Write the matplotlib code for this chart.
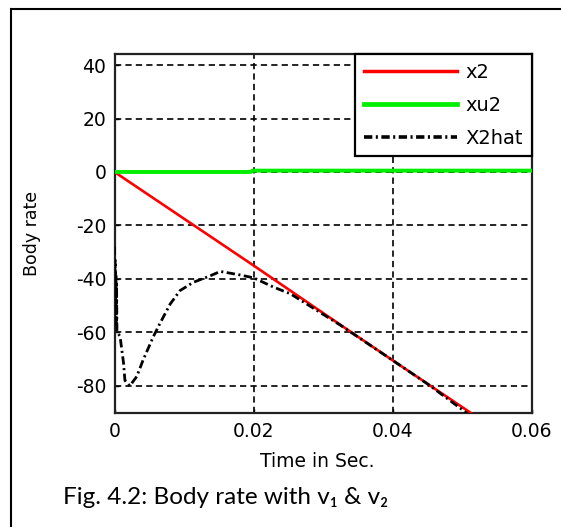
import matplotlib
matplotlib.use("Agg")
import matplotlib.pyplot as plt
from matplotlib.lines import Line2D

plt.rcParams['lines.scale_dashes'] = False
plt.rcParams['axes.unicode_minus'] = False

# ---- data ----
t_x2 = [0.0, 0.01, 0.02, 0.03, 0.04, 0.052]
x2 = [0.0, -17.5, -35.0, -52.8, -70.5, -91.5]

t_xu2 = [0.0, 0.0196, 0.0198, 0.06]
xu2 = [0.0, 0.0, 0.5, 0.5]

t_x2hat = [0.0, 0.00005, 0.0001, 0.00015, 0.0002, 0.00025, 0.0003, 0.00035, 0.0004,
           0.0008, 0.0013, 0.0015, 0.0022, 0.0032, 0.0041, 0.0056, 0.0065, 0.008,
           0.0094, 0.0113, 0.0137, 0.0152, 0.018, 0.02, 0.0228, 0.0253, 0.0283,
           0.0324, 0.036, 0.04, 0.045, 0.0508]
x2hat = [-28.0, -45.0, -33.0, -52.0, -38.0, -57.0, -42.0, -59.5, -60.0,
         -61.5, -71.5, -78.0, -80.0, -76.5, -70.4, -61.5, -56.8, -49.4,
         -44.4, -41.3, -38.9, -37.2, -38.5, -39.6, -43.0, -45.6, -50.5,
         -57.2, -63.5, -70.5, -79.3, -90.5]

labels = ['x2', 'xu2', 'X2hat']
xticks = [0, 0.02, 0.04, 0.06]
xticklabels = ['0', '0.02', '0.04', '0.06']
yticks = [-80, -60, -40, -20, 0, 20, 40]

W, H = 561, 527
fig = plt.figure(figsize=(W / 100, H / 100), dpi=100)
fig.patch.set_facecolor('white')

ax = fig.add_axes([114.5 / W, 1 - 413.4 / H, (532 - 114.5) / W, (413.4 - 53.8) / H])

ax.plot(t_x2, x2, color='#ff0000', lw=1.9, label=labels[0], zorder=3)
ax.plot(t_xu2, xu2, color='#00ee00', lw=2.8, label=labels[1], zorder=4)
ax.plot(t_x2hat, x2hat, color='black', lw=2.0, linestyle=(0, (6, 2.5, 1.5, 2.5)),
        label=labels[2], zorder=5)

ax.set_xlim(0, 0.06)
ax.set_ylim(-90.3, 44.2)
ax.set_xticks(xticks)
ax.set_xticklabels(xticklabels)
ax.set_yticks(yticks)

ax.grid(True, color='black', linestyle=(0, (4.5, 3)), lw=1.2)
ax.tick_params(direction='in', length=3, width=1, labelsize=13.5, pad=6,
               colors='black')
for lab in ax.get_xticklabels() + ax.get_yticklabels():
    lab.set_family('DejaVu Sans')
for s in ax.spines.values():
    s.set_linewidth(1.6)
    s.set_color('#222222')

ax.set_xlabel('Time in Sec.', fontsize=13.5, family='DejaVu Sans')
ax.xaxis.set_label_coords(0.485, -0.135)
ax.xaxis.label.set_va('center')
ax.set_ylabel('Body rate', fontsize=12.5, family='DejaVu Sans')
ax.yaxis.set_label_coords(-0.197, 0.5)
ax.yaxis.label.set_va('center')

leg = ax.legend(loc='upper right', borderaxespad=0, fancybox=False,
                framealpha=1, edgecolor='black', handlelength=4.8,
                labelspacing=0.72, handletextpad=0.45, borderpad=0.45,
                prop={'family': 'DejaVu Sans', 'size': 14})
leg.get_frame().set_linewidth(1.6)
for h in leg.legend_handles:
    h.set_linewidth(h.get_linewidth() + 0.6)

# caption
fig.text(62.6 / W, 1 - 497 / H, 'Fig. 4.2: Body rate with v\u2081 & v\u2082',
         fontsize=17.5, family=['Lato', 'DejaVu Sans'], va='center', ha='left')

# outer frame (left and top edges visible)
fig.add_artist(Line2D([10.7 / W, 10.7 / W], [0, 1 - 9.4 / H], color='black',
                      lw=1.5, transform=fig.transFigure))
fig.add_artist(Line2D([10.7 / W, 1], [1 - 9.4 / H, 1 - 9.4 / H], color='black',
                      lw=1.5, transform=fig.transFigure))

fig.savefig('out.png', dpi=100)
